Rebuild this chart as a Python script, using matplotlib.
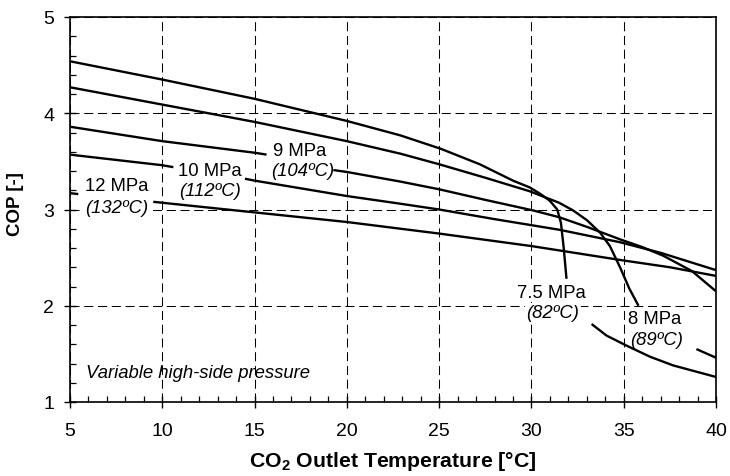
import numpy as np
import matplotlib
matplotlib.use("Agg")
import matplotlib.pyplot as plt
from matplotlib.ticker import MultipleLocator

plt.rcParams['font.family'] = ['Liberation Sans', 'DejaVu Sans']
plt.rcParams['mathtext.fontset'] = 'custom'
plt.rcParams['mathtext.rm'] = 'Liberation Sans'
plt.rcParams['mathtext.bf'] = 'Liberation Sans:bold'

nan = np.nan

# 7.5 MPa (82ºC)
x_75 = [5, 10, 15, 20, 22.9, 25.1, 27.2, 29.0, 29.9, 30.5, 31.0, 31.4, 31.6, 31.75, 31.9,
        nan, 33.26, 34.07, 35.16, 36.43, 37.68, 40]
y_75 = [4.54, 4.35, 4.15, 3.92, 3.77, 3.63, 3.47, 3.30, 3.23, 3.16, 3.09, 3.00, 2.86, 2.60, 2.28,
        nan, 1.81, 1.69, 1.585, 1.47, 1.38, 1.26]

# 8 MPa (89ºC)
x_8 = [5, 10, 15, 20, 22.9, 25.0, 27.5, 29.9, 31.5, 32.26, 33.0, 33.72, 34.25, 34.8, 35.3, 35.8,
       nan, 38.94, 40]
y_8 = [4.27, 4.09, 3.91, 3.71, 3.58, 3.47, 3.33, 3.19, 3.07, 2.99, 2.89, 2.76, 2.62, 2.40, 2.18, 2.0,
       nan, 1.55, 1.46]

# 9 MPa (104ºC)
x_9 = [5, 10, 15, 15.65, nan, 19.27, 20, 22.9, 25.0, 27.5, 30.1, 31.5, 33.0, 34.8, 36.0, 37.14, 38.7, 40]
y_9 = [3.86, 3.71, 3.59, 3.57, nan, 3.41, 3.39, 3.29, 3.21, 3.10, 2.99, 2.92, 2.82, 2.69, 2.61, 2.52, 2.36, 2.15]

# 10 MPa (112ºC)
x_10 = [5, 10, 10.6, nan, 14.48, 15, 20, 22.9, 25.0, 28.0, 31.5, 34.8, 37.0, 40]
y_10 = [3.57, 3.46, 3.44, nan, 3.32, 3.30, 3.14, 3.06, 3.00, 2.90, 2.79, 2.66, 2.55, 2.37]

# 12 MPa (132ºC)
x_12 = [5, 5.45, nan, 9.51, 10, 15, 20, 25, 30, 35, 37.5, 40]
y_12 = [3.17, 3.16, nan, 3.08, 3.07, 2.97, 2.87, 2.75, 2.62, 2.47, 2.40, 2.31]

curves = [(x_75, y_75), (x_8, y_8), (x_9, y_9), (x_10, y_10), (x_12, y_12)]

labels = [
    ("9 MPa", "(104ºC)", 17.46, 3.61, 17.62, 3.40),
    ("10 MPa", "(112ºC)", 12.58, 3.40, 12.58, 3.20),
    ("12 MPa", "(132ºC)", 7.53, 3.25, 7.53, 3.02),
    ("7.5 MPa", "(82ºC)", 31.08, 2.14, 31.17, 1.93),
    ("8 MPa", "(89ºC)", 36.68, 1.87, 36.77, 1.65),
]

fig = plt.figure(figsize=(7.3, 4.77), dpi=100)
ax = fig.add_axes([70/730, 1-403/477, (716-70)/730, (403-18)/477])

for xs, ys in curves:
    ax.plot(xs, ys, color='black', lw=1.7, zorder=3, solid_capstyle='butt',
            solid_joinstyle='round')

for t1, t2, x1, y1, x2, y2 in labels:
    ax.text(x1, y1, t1, ha='center', va='center', fontsize=13.3, zorder=2,
            bbox=dict(facecolor='white', edgecolor='none', pad=1.0))
    ax.text(x2, y2, t2, ha='center', va='center', fontsize=13.3, style='italic', zorder=2,
            bbox=dict(facecolor='white', edgecolor='none', pad=1.0))

ax.text(5.85, 1.31, "Variable high-side pressure", ha='left', va='center',
        fontsize=13.3, style='italic', zorder=2)

ax.set_xlim(5, 40)
ax.set_ylim(1, 5)
ax.xaxis.set_major_locator(MultipleLocator(5))
ax.xaxis.set_minor_locator(MultipleLocator(1))
ax.yaxis.set_major_locator(MultipleLocator(1))
ax.yaxis.set_minor_locator(MultipleLocator(0.2))

ax.grid(True, which='major', color='black', linestyle=(0, (8.7, 4.5)), lw=0.75)
ax.set_axisbelow(True)

ax.tick_params(which='major', direction='inout', length=8.6, width=1.0, labelsize=14,
               top=False, right=False)
ax.tick_params(axis='x', which='major', pad=10)
ax.tick_params(axis='y', which='major', pad=7)
ax.tick_params(which='minor', direction='in', length=4.3, width=0.9, top=False, right=False)

for s in ax.spines.values():
    s.set_linewidth(1.2)

ax.set_xlabel(r"CO$_\mathbf{2}$ Outlet Temperature [°C]", fontsize=15.3, fontweight='bold')
ax.xaxis.set_label_coords(0.5, -0.123)
ax.xaxis.label.set_va('top')
ax.set_ylabel("COP [-]", fontsize=13.5, fontweight='bold')
ax.yaxis.set_label_coords(-0.071, 0.517)

fig.savefig("out.png", dpi=100)
